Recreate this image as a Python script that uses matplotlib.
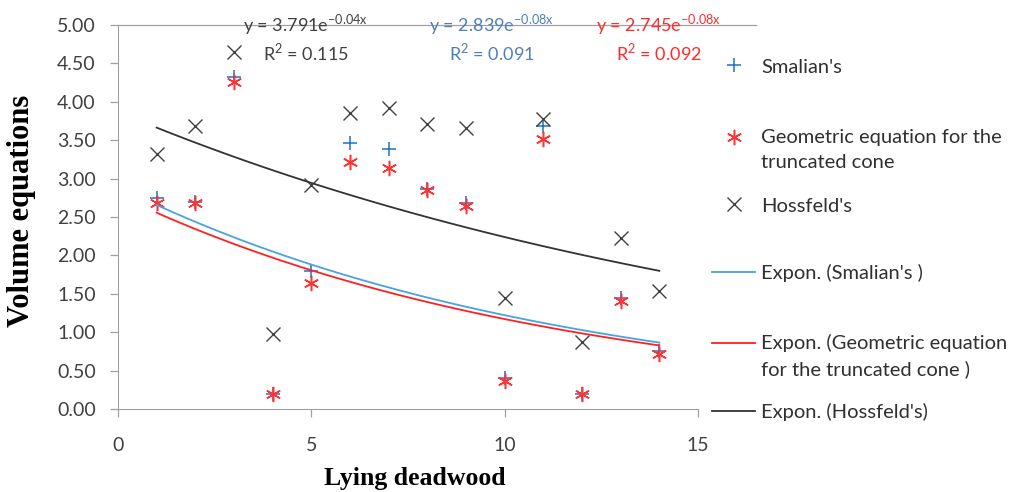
import numpy as np
import matplotlib
matplotlib.use('Agg')
import matplotlib.pyplot as plt
from matplotlib.legend_handler import HandlerLine2D

# values
x = np.arange(1, 15)
smalian = [2.75, 2.70, 4.32, 0.20, 1.80, 3.47, 3.38, 2.87, 2.68, 0.40, 3.68, 0.20, 1.45, 0.76]
geometric = [2.68, 2.68, 4.26, 0.19, 1.64, 3.21, 3.14, 2.85, 2.64, 0.37, 3.52, 0.20, 1.40, 0.72]
hossfeld = [3.32, 3.68, 4.65, 0.98, 2.92, 3.85, 3.92, 3.71, 3.66, 1.44, 3.77, 0.87, 2.23, 1.54]

eq_lines = [r'y = 3.791e$^{\mathrm{-0.04x}}$', r'y = 2.839e$^{\mathrm{-0.08x}}$', r'y = 2.745e$^{\mathrm{-0.08x}}$']
r2_lines = ['R$^2$ = 0.115', 'R$^2$ = 0.091', 'R$^2$ = 0.092']
eq_colors = ['#404040', '#4f7fb8', '#ff2a2a']
eq_x = [4.86, 9.66, 13.98]

plt.rcParams['font.family'] = ['Lato', 'DejaVu Sans']
plt.rcParams['mathtext.fontset'] = 'custom'
plt.rcParams['mathtext.rm'] = 'Lato'


class FirstLineHandler(HandlerLine2D):
    # symbol sits next to the first line of a two-line label
    def create_artists(self, legend, orig_handle, xdescent, ydescent, width, height, fontsize, trans):
        arts = super().create_artists(legend, orig_handle, xdescent, ydescent, width, height, fontsize, trans)
        for a in arts:
            a.set_ydata(np.asarray(a.get_ydata()) + 0.65 * fontsize)
        return arts


W, H = 1021, 492
fig = plt.figure(figsize=(W / 100, H / 100), dpi=100)
ax = fig.add_axes([118 / W, 1 - 409 / H, 580 / W, 384 / H])

c_sm, c_ge, c_ho = '#1a73c8', '#ff3333', '#404040'

ax.plot(x, smalian, ls='none', marker='+', ms=10, mew=1.1, color=c_sm, label="Smalian's", clip_on=False)
ax.plot(x, geometric, ls='none', marker=(6, 2, 0), ms=11, mew=1.1, color=c_ge,
        label='Geometric equation for the\ntruncated cone', clip_on=False)
ax.plot(x, hossfeld, ls='none', marker='x', ms=10, mew=1.0, color=c_ho, label="Hossfeld's", clip_on=False)

# exponential trend lines fitted to the data
xs = np.linspace(x[0], x[-1], 100)
for ys, col, lab in [(smalian, '#4aa3df', "Expon. (Smalian's )"),
                     (geometric, '#ff2020', 'Expon. (Geometric equation\nfor the truncated cone )'),
                     (hossfeld, '#333333', "Expon. (Hossfeld's)")]:
    b, a = np.polyfit(x, np.log(ys), 1)
    ax.plot(xs, np.exp(a) * np.exp(b * xs), color=col, lw=1.3, label=lab)

for e, r, xx, col in zip(eq_lines, r2_lines, eq_x, eq_colors):
    ax.text(xx, 5.0, e, color=col, fontsize=13, ha='center', va='center', clip_on=False)
    ax.text(xx, 4.65, r, color=col, fontsize=13, ha='center', va='center', clip_on=False)

ax.axhline(5.0, xmin=0, xmax=1.10, color='#a0a0a0', lw=0.9, clip_on=False, zorder=0)

ax.set_xlim(0, 15)
ax.set_ylim(0, 5)
ax.set_xticks([0, 5, 10, 15])
ax.set_yticks(np.arange(0, 5.01, 0.5))
ax.set_yticklabels(['%.2f' % v for v in np.arange(0, 5.01, 0.5)])
ax.tick_params(labelsize=14, colors='#404040', length=6, width=0.9, direction='out', color='#a0a0a0')
ax.tick_params(axis='x', pad=14)
ax.tick_params(axis='y', pad=10)
for s in ['top', 'right']:
    ax.spines[s].set_visible(False)
for s in ['left', 'bottom']:
    ax.spines[s].set_color('#a0a0a0')

ax.set_ylabel('Volume equations', family='Liberation Serif', fontweight='bold', fontsize=22, color='black')
ax.yaxis.set_label_coords(-0.142, 0.516)
ax.set_xlabel('Lying deadwood', family='Liberation Serif', fontweight='bold', fontsize=18.5, color='black')
ax.xaxis.set_label_coords(0.512, -0.152)

# legend entries placed one by one, like the uneven spacing of the original
handles, labels = ax.get_legend_handles_labels()
legend_y = [67, 150, 206, 273, 356, 412]
for h, lab, yy in zip(handles, labels, legend_y):
    hmap = {h: FirstLineHandler()} if '\n' in lab else None
    leg = fig.legend([h], [lab], loc='center left', bbox_to_anchor=(712 / W, 1 - yy / H),
                     frameon=False, fontsize=14.5, borderpad=0, borderaxespad=0,
                     handlelength=2.15, handletextpad=0.3, labelcolor='#303030',
                     handler_map=hmap)
    for t in leg.get_texts():
        t.set_linespacing(1.6)

fig.savefig('out.png', dpi=100)
